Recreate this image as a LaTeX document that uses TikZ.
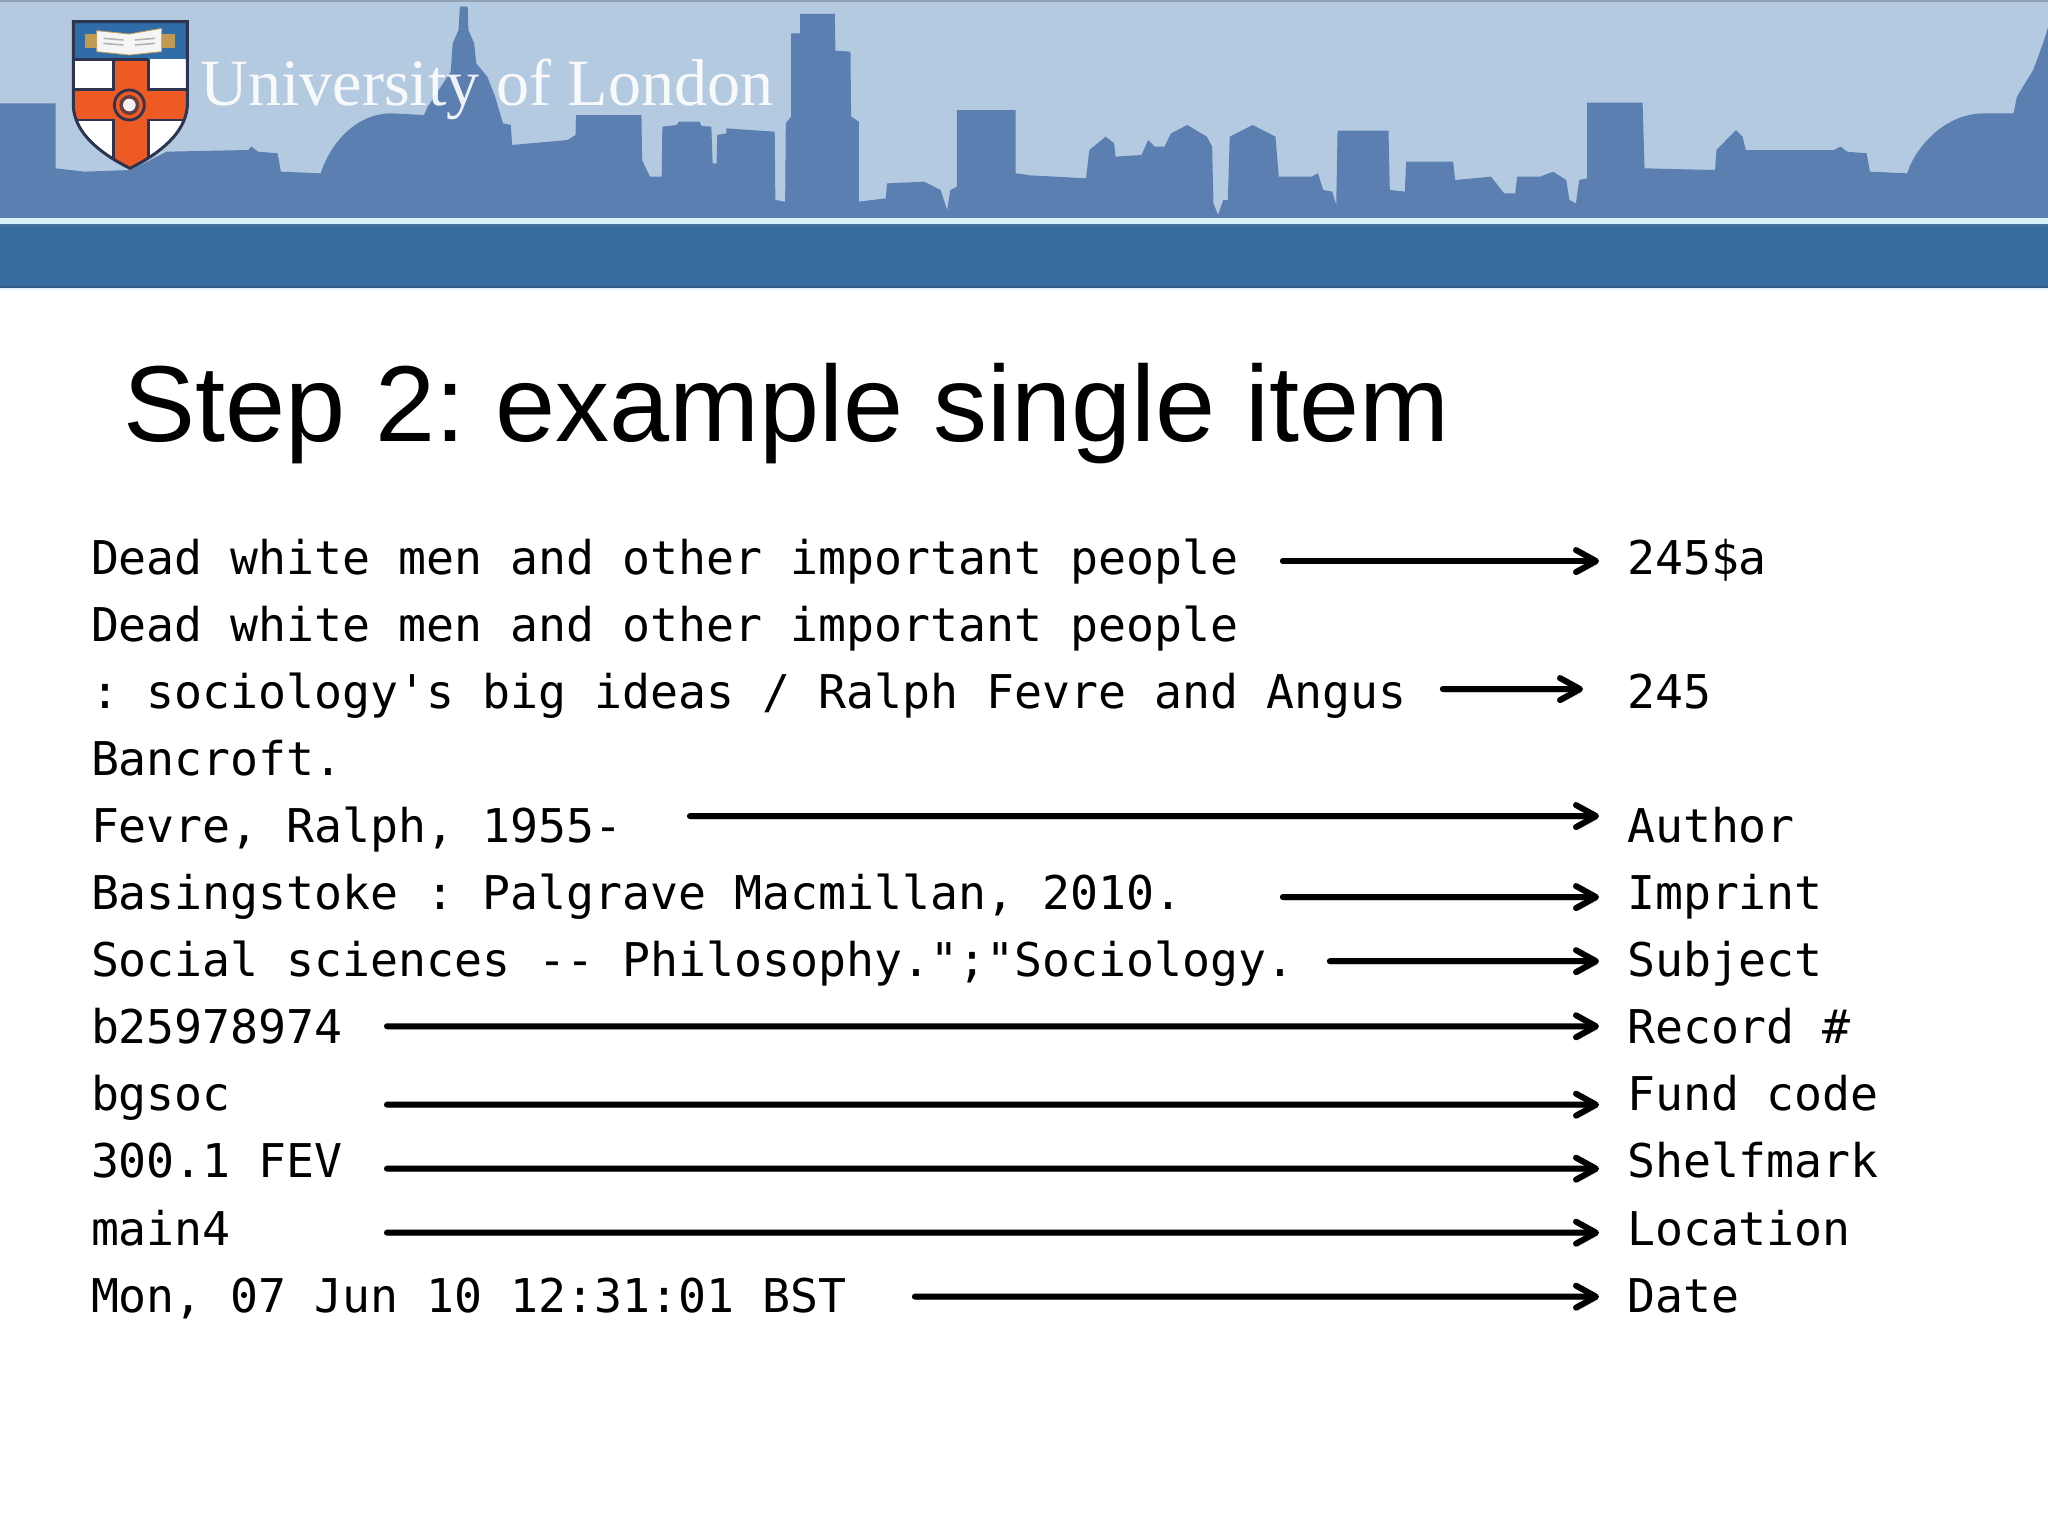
\documentclass[tikz,border=0pt]{standalone}
\usepackage{fontspec}
\setmainfont{Liberation Sans}
\setmonofont{DejaVu Sans Mono}
\newfontfamily\crestfont{Liberation Serif}
\usepackage{tikz}
\usetikzlibrary{
    arrows.meta,
    positioning
}
\frenchspacing
\definecolor{skyblue}{HTML}{B4CAE0}
\definecolor{skyline}{HTML}{5A7FB0}
\definecolor{bandblue}{HTML}{376C9F}
\definecolor{stripblue}{HTML}{D8F0F8}
\definecolor{shieldblue}{HTML}{2F6CA8}
\definecolor{shieldred}{HTML}{EE5A24}
\definecolor{shielddark}{HTML}{2C3450}
\definecolor{bookgold}{HTML}{C09A50}
\tikzset{
    rowtext/.style = {
        font=\ttfamily\fontsize{23.25}{28}\selectfont,
        inner sep=0pt,
        outer sep=0pt,
        text height=22pt,
        text depth=11.55pt,
        anchor=north west
    },
    nextrow/.style = {
        below=0pt of #1.south west,
        anchor=north west
    },
    skiprow/.style = {
        below=33.55pt of #1.south west,
        anchor=north west
    },
    arrow/.style = {
        -{Straight Barb[length=10pt,width=11pt,round]},
        line width=3pt,
        line cap=round,
        preaction={draw=black!22,transform canvas={shift={(0.6pt,-1.4pt)}}}
    }
}

\begin{document}
\begin{tikzpicture}[x=0.5pt,y=-0.5pt]
\useasboundingbox (0,0) rectangle (2048,1536);
\fill [white] (0,0) rectangle (2048,1536);
% header
\fill [skyblue] (0,0) rectangle (2048,219);
\fill [skyblue!80!black] (0,0) rectangle (2048,2);
\begin{scope}[x=0.3266pt,y=-0.16667pt]
\fill [skyline] (0,655) -- (0,310) -- (85,310) -- (85,505) -- (130,515) -- (200,510) -- (255,455) -- (380,450) -- (385,440) -- (395,455) -- (425,460) -- (430,515) -- (491,520)
    .. controls (500,460) and (535,340) .. (600,340) -- (649,345) -- (655,320) -- (690,215) -- (693,130) -- (702,90) -- (704,20) -- (716,20) -- (717,90) -- (726,130) -- (729,190) -- (746,230) -- (758,290) -- (770,370) -- (782,375) -- (784,435)
    -- (869,420) -- (881,405) -- (882,345) -- (982,345) -- (983,480) -- (995,530) -- (1013,530) -- (1014,380) -- (1036,375) -- (1039,365) -- (1071,365) -- (1074,378) -- (1089,380) -- (1091,490) -- (1097,490) -- (1098,405) -- (1112,400) -- (1112,385) -- (1186,395) -- (1187,600) -- (1202,605)
    -- (1203,370) -- (1211,350) -- (1211,100) -- (1225,100) -- (1225,42) -- (1278,42) -- (1279,152) -- (1302,155) -- (1303,350) -- (1315,365) -- (1315,605) -- (1356,595) -- (1358,550) -- (1415,545) -- (1440,570) -- (1450,630)
    -- (1455,570) -- (1465,560) -- (1465,330) -- (1555,330) -- (1555,520) -- (1575,525) -- (1575,655) -- cycle;
\end{scope}
\begin{scope}[xshift=512pt,x=0.3266pt,y=-0.16667pt]
\fill [skyline] (0,655) -- (0,525) -- (95,535) -- (100,450) -- (125,410) -- (138,430) -- (140,470) -- (180,465) -- (190,420) -- (200,440) -- (215,440) -- (225,400) -- (250,375) -- (280,410) -- (288,440) -- (290,610) -- (297,645)
    -- (305,600) -- (312,600) -- (315,410) -- (350,375) -- (385,410) -- (390,530) -- (440,530) -- (450,520) -- (458,570) -- (472,575) -- (478,615) -- (480,392) -- (558,392) -- (560,570) -- (583,575) -- (585,485) -- (657,485)
    -- (660,540) -- (715,530) -- (735,580) -- (752,580) -- (755,530) -- (790,530) -- (810,515) -- (830,540) -- (835,600) -- (845,610) -- (850,540) -- (862,535) -- (862,308) -- (947,308) -- (950,505) -- (1058,510)
    -- (1060,450) -- (1090,390) -- (1100,410) -- (1105,450) -- (1240,450) -- (1250,440) -- (1260,455) -- (1290,460) -- (1295,515) -- (1352,520)
    .. controls (1365,440) and (1410,340) .. (1470,340) -- (1515,340) -- (1520,290) -- (1545,210) -- (1560,130) -- (1568,80) -- (1568,655) -- cycle;
\end{scope}
\fill [stripblue] (0,218) rectangle (2048,224);
\fill [bandblue!80!gray] (0,224) rectangle (2048,227);
\fill [bandblue] (0,227) rectangle (2048,286);
\fill [bandblue!85!black] (0,286) rectangle (2048,288);
\fill [stripblue!60!white] (0,288) rectangle (2048,290);
\node (university) [anchor=base west,inner sep=0pt,text=white,opacity=0.9,font=\crestfont\fontsize{33.07}{40}\selectfont] at (200,105) {University of London};
% shield
\begin{scope}[shift={(25pt,-5pt)},x=0.16667pt,y=-0.16667pt]
\begin{scope}
\clip (70,35) -- (412,35) -- (412,290) .. controls (405,370) and (330,430) .. (240,475) .. controls (150,430) and (75,370) .. (70,290) -- cycle;
\fill [white] (60,140) rectangle (420,480);
\fill [shieldblue] (60,30) rectangle (420,148);
\fill [shieldred] (190,148) rectangle (295,480);
\fill [shieldred] (60,238) rectangle (420,330);
\draw [shielddark,line width=1.2pt] (60,148) -- (190,148) -- (190,238) -- (60,238) (295,148) -- (295,238) -- (420,238) (60,330) -- (190,330) -- (190,480) (295,480) -- (295,330) -- (420,330) (190,148) -- (295,148);
\end{scope}
\draw [shielddark,line width=1.5pt] (70,35) -- (412,35) -- (412,290) .. controls (405,370) and (330,430) .. (240,475) .. controls (150,430) and (75,370) .. (70,290) -- cycle;
\fill [bookgold] (105,72) rectangle (375,115);
\fill [white!92!gray,draw=bookgold] (140,62) -- (238,72) -- (335,55) -- (335,125) -- (238,135) -- (140,125) -- cycle;
\draw [gray!60,line width=0.8pt] (160,85) -- (220,90) (160,100) -- (220,105) (255,90) -- (315,85) (255,105) -- (315,100);
\fill [shieldred,draw=shielddark,line width=1.4pt] (238,285) circle (45);
\fill [shielddark!70!shieldred] (238,285) circle (30);
\fill [white!90!gray] (238,285) circle (19);
\end{scope}
% title
\node (title) [anchor=base west,inner sep=0pt,font=\fontsize{54}{64}\selectfont] at (123,441) {Step 2: example single item};
% left column
\node (line1) [rowtext] at (91,530) {Dead white men and other important people};
\node (line2) [rowtext, nextrow=line1] {Dead white men and other important people};
\node (line3) [rowtext, nextrow=line2] {: sociology's big ideas / Ralph Fevre and Angus};
\node (line4) [rowtext, nextrow=line3] {Bancroft.};
\node (line5) [rowtext, nextrow=line4] {Fevre, Ralph, 1955-};
\node (line6) [rowtext, nextrow=line5] {Basingstoke : Palgrave Macmillan, 2010.};
\node (line7) [rowtext, nextrow=line6] {Social sciences -- Philosophy.";"Sociology.};
\node (line8) [rowtext, nextrow=line7] {b25978974};
\node (line9) [rowtext, nextrow=line8] {bgsoc};
\node (line10) [rowtext, nextrow=line9] {300.1 FEV};
\node (line11) [rowtext, nextrow=line10] {main4};
\node (line12) [rowtext, nextrow=line11] {Mon, 07 Jun 10 12:31:01 BST};
% right column
\node (tag1) [rowtext] at (1627,530) {245\$a};
\node (tag3) [rowtext, skiprow=tag1] {245};
\node (tag5) [rowtext, skiprow=tag3] {Author};
\node (tag6) [rowtext, nextrow=tag5] {Imprint};
\node (tag7) [rowtext, nextrow=tag6] {Subject};
\node (tag8) [rowtext, nextrow=tag7] {Record \#};
\node (tag9) [rowtext, nextrow=tag8] {Fund code};
\node (tag10) [rowtext, nextrow=tag9] {Shelfmark};
\node (tag11) [rowtext, nextrow=tag10] {Location};
\node (tag12) [rowtext, nextrow=tag11] {Date};

\draw [arrow] ([shift={(22pt,1.25pt)}]line1.east) -- ([shift={(-14pt,1.25pt)}]tag1.west);
\draw [arrow] ([shift={(18pt,4.35pt)}]line3.east) -- ([shift={(-22pt,4.35pt)}]tag3.west);
\draw [arrow] ([shift={(33.5pt,7.95pt)}]line5.east) -- ([shift={(-14pt,7.95pt)}]tag5.west);
\draw [arrow] ([shift={(50pt,1pt)}]line6.east) -- ([shift={(-14pt,1pt)}]tag6.west);
\draw [arrow] ([shift={(17.5pt,2.5pt)}]line7.east) -- ([shift={(-14pt,2.5pt)}]tag7.west);
\draw [arrow] ([shift={(22pt,3.5pt)}]line8.east) -- ([shift={(-14pt,3.5pt)}]tag8.west);
\draw [arrow] ([shift={(78pt,-2.15pt)}]line9.east) -- ([shift={(-14pt,-2.15pt)}]tag9.west);
\draw [arrow] ([shift={(22pt,-0.6pt)}]line10.east) -- ([shift={(-14pt,-0.6pt)}]tag10.west);
\draw [arrow] ([shift={(78pt,0.95pt)}]line11.east) -- ([shift={(-14pt,0.95pt)}]tag11.west);
\draw [arrow] ([shift={(34pt,2.5pt)}]line12.east) -- ([shift={(-14pt,2.5pt)}]tag12.west);
\end{tikzpicture}
\end{document}
